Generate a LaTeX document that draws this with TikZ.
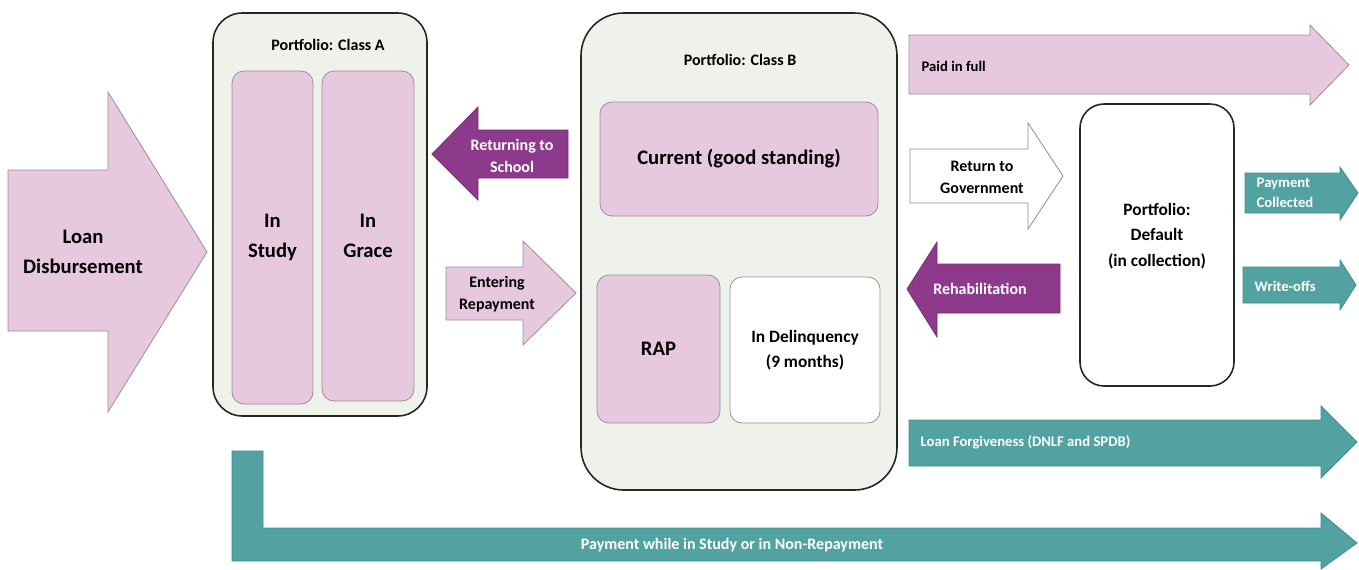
\documentclass[tikz,border=0pt]{standalone}
\usepackage{fontspec}
\setmainfont{Carlito}
\usetikzlibrary{positioning}

\definecolor{mauve}{HTML}{E6C9DE}
\definecolor{mauveline}{HTML}{9E8C99}
\definecolor{plum}{HTML}{8E3A8C}
\definecolor{teal}{HTML}{52A2A2}
\definecolor{tealline}{HTML}{3F8E8E}
\definecolor{sage}{HTML}{EEF2EA}

\newcommand\txtBig{\fontsize{15.5}{22}\selectfont\bfseries}
\newcommand\txtMid{\fontsize{13}{19}\selectfont\bfseries}
\newcommand\txtArrow{\fontsize{12}{16.5}\selectfont\bfseries}
\newcommand\txtSmall{\fontsize{11}{15}\selectfont\bfseries}

\begin{document}
\begin{tikzpicture}[x=0.75pt,y=-0.75pt,
 portfolio/.style={draw=black!85,line width=1.2pt,fill=sage},
 stage/.style={draw=mauveline,line width=0.6pt,fill=mauve,rounded corners=9pt},
 pinkarrow/.style={draw=mauveline,line width=0.6pt,fill=mauve},
 plumarrow/.style={draw=plum!80!black,line width=0.6pt,fill=plum},
 tealarrow/.style={draw=tealline,line width=0.6pt,fill=teal},
 whitearrow/.style={draw=black!45,line width=0.6pt,fill=white},
 dark/.style={text=black,align=center},
 light/.style={text=white,align=center}]

\useasboundingbox (0,0) rectangle (1359,569);

% portfolios
\node [portfolio,rounded corners=22pt,minimum width=160.5pt,minimum height=302.25pt] (classA) at (320,214.5) {};
\node [portfolio,rounded corners=32pt,minimum width=237pt,minimum height=357.75pt] (classB) at (739,251.5) {};
\node [portfolio,fill=white,rounded corners=18pt,minimum width=115.5pt,minimum height=211.5pt] (default) at (1157,245) {};

\node [dark,font=\txtArrow] (labA) at (328,45) {Portfolio: Class A};
\node [dark,font=\txtArrow] (labB) at (740,60) {Portfolio: Class B};
\node [dark,font=\txtMid] (labD) at (1157,236) {Portfolio:\\Default\\(in collection)};

% stages inside the portfolios
\node [stage,minimum width=60.75pt,minimum height=249.75pt,dark,font=\txtBig] (study) at (272.5,237.5) {In\\Study};
\node [stage,minimum width=69pt,minimum height=247.5pt,dark,font=\txtBig] (grace) at (368,236) {In\\Grace};
\node [stage,minimum width=208.5pt,minimum height=85.5pt,dark,font=\txtBig] (current) at (739,159) {Current (good standing)};
\node [stage,minimum width=92.25pt,minimum height=111pt,dark,font=\txtBig] (rap) at (658.5,349) {RAP};
\node [stage,fill=white,minimum width=112.5pt,minimum height=109.5pt,dark,font=\txtMid] (delinq) at (805,350) {In Delinquency\\(9 months)};

% block arrows
\draw [pinkarrow] (8,170) -- (108,170) -- (108,92) -- (207,252) -- (108,412) -- (108,331) -- (8,331) -- cycle;
\node [dark,font=\txtBig] (disb) at (83,252) {Loan\\Disbursement};

\draw [plumarrow] (432,154) -- (478,107) -- (478,130) -- (568,130) -- (568,178) -- (478,178) -- (478,200) -- cycle;
\node [light,font=\txtArrow] (school) at (512,156) {Returning to\\School};

\draw [pinkarrow] (446,267) -- (523,267) -- (523,241) -- (576,293) -- (523,345) -- (523,320) -- (446,320) -- cycle;
\node [dark,font=\txtArrow] (repay) at (497,294) {Entering\\Repayment};

\draw [pinkarrow] (909,35) -- (1310,35) -- (1310,25) -- (1349,65) -- (1310,105) -- (1310,94) -- (909,94) -- cycle;
\node [dark,font=\txtSmall,anchor=west] (paid) at (917,66) {Paid in full};

\draw [whitearrow] (910,149) -- (1028,149) -- (1028,123) -- (1063,176) -- (1028,229) -- (1028,203) -- (910,203) -- cycle;
\node [dark,font=\txtArrow] (gov) at (982,177) {Return to\\Government};

\draw [plumarrow] (907,289) -- (937,242) -- (937,264) -- (1060,264) -- (1060,313) -- (937,313) -- (937,337) -- cycle;
\node [light,font=\txtArrow] (rehab) at (980,289) {Rehabilitation};

\draw [tealarrow] (1245,173) -- (1340,173) -- (1340,167) -- (1358,193) -- (1340,220) -- (1340,213) -- (1245,213) -- cycle;
\node [light,font=\txtSmall,align=left,anchor=west] (collected) at (1252,193) {Payment\\Collected};

\draw [tealarrow] (1243,267) -- (1340,267) -- (1340,260) -- (1356,285) -- (1340,310) -- (1340,303) -- (1243,303) -- cycle;
\node [light,font=\txtSmall,anchor=west] (writeoff) at (1250,286) {Write-offs};

\draw [tealarrow] (909,420) -- (1321,420) -- (1321,406) -- (1357,442) -- (1321,478) -- (1321,466) -- (909,466) -- cycle;
\node [light,font=\txtSmall,anchor=west] (forgive) at (916,442) {Loan Forgiveness (DNLF and SPDB)};

\draw [tealarrow] (232,451) -- (263,451) -- (263,528) -- (1321,528) -- (1321,513) -- (1357,543) -- (1321,569) -- (1321,561) -- (232,561) -- cycle;
\node [light,font=\txtArrow] (nonrepay) at (732,545) {Payment while in Study or in Non-Repayment};

\end{tikzpicture}
\end{document}
